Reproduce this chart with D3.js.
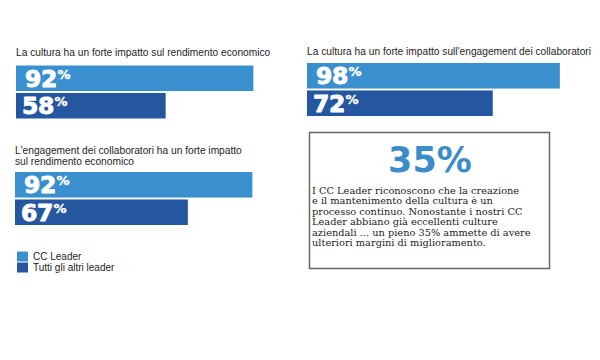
<!DOCTYPE html>
<html><head><meta charset="utf-8">
<script src="https://cdn.jsdelivr.net/npm/d3@7"></script>
<style>html,body{margin:0;padding:0;background:#fff;}</style>
</head><body>
<svg id="chart" width="600" height="360"></svg>
<script>
const titles = [
  ["La cultura ha un forte impatto sul rendimento economico"],
  ["La cultura ha un forte impatto sull'engagement dei collaboratori"],
  ["L'engagement dei collaboratori ha un forte impatto", "sul rendimento economico"]
];
const series = ["CC Leader", "Tutti gli altri leader"];
const ccLeader = [92, 98, 92];
const altriLeader = [58, 72, 67];
const calloutValue = "35%";
const calloutLines = [
  "I CC Leader riconoscono che la creazione",
  "e il mantenimento della cultura è un",
  "processo continuo. Nonostante i nostri CC",
  "Leader abbiano già eccellenti culture",
  "aziendali ... un pieno 35% ammette di avere",
  "ulteriori margini di miglioramento."
];

const colors = ["#3a8fcf", "#2557a1"];
const svg = d3.select("#chart");

// layout of the three panels
const panels = [
  {x: 16, titleY: 56, barTop: 65.5},
  {x: 307, titleY: 55, barTop: 63},
  {x: 15, titleY: 153.5, barTop: 172}
];
const x = d3.scaleLinear().domain([0, 100]).range([0, 258]);
const sans = "'Liberation Sans', Arial, sans-serif";

panels.forEach((p, i) => {
  const g = svg.append("g").attr("transform", `translate(${p.x},0)`);
  g.selectAll("text.title").data(titles[i]).join("text")
    .attr("class", "title")
    .attr("x", 0).attr("y", (d, j) => p.titleY + j * 11)
    .attr("font-family", sans).attr("font-size", 10.2).attr("fill", "#1e1e1e")
    .text(d => d);
  const y = d3.scaleBand().domain(series).range([p.barTop, p.barTop + 53]).paddingInner(0.07);
  const vals = [ccLeader[i], altriLeader[i]];
  g.selectAll("rect.bar").data(vals).join("rect")
    .attr("class", "bar")
    .attr("x", 0).attr("y", (d, j) => y(series[j]))
    .attr("width", d => x(d)).attr("height", y.bandwidth())
    .attr("fill", (d, j) => colors[j]);
  const lab = g.selectAll("text.lab").data(vals).join("text")
    .attr("class", "lab")
    .attr("x", (d, j) => j === 0 ? 9 : 6)
    .attr("y", (d, j) => y(series[j]) + y.bandwidth() / 2 + 8.5)
    .attr("font-family", "'DejaVu Sans', sans-serif").attr("font-weight", "bold")
    .attr("fill", "#fff").attr("stroke", "#fff").attr("stroke-width", 0.9)
    .attr("stroke-linejoin", "round");
  lab.append("tspan").attr("font-size", 23.5).attr("letter-spacing", -0.3).text(d => d);
  lab.append("tspan").attr("font-size", 13).attr("stroke-width", 0.4).attr("dx", 0.5).attr("dy", -8).text("%");
});

// legend
const leg = svg.append("g");
leg.selectAll("rect").data(series).join("rect")
  .attr("x", 17).attr("y", (d, j) => 251.5 + j * 11)
  .attr("width", 11).attr("height", 10)
  .attr("fill", (d, j) => colors[j]);
leg.selectAll("text").data(series).join("text")
  .attr("x", 33).attr("y", (d, j) => 260 + j * 11)
  .attr("font-family", sans).attr("font-size", 10).attr("fill", "#1e1e1e")
  .text(d => d);

// callout box
const box = svg.append("g");
box.append("rect").attr("x", 309.5).attr("y", 132.5).attr("width", 240).attr("height", 136)
  .attr("fill", "#fff").attr("stroke", "#666").attr("stroke-width", 1.5);
box.append("text").attr("x", 430).attr("y", 171.5).attr("text-anchor", "middle")
  .attr("font-family", "'DejaVu Sans', sans-serif").attr("font-weight", "bold")
  .attr("font-size", 35).attr("fill", "#3a8dc8").text(calloutValue);
box.selectAll("text.body").data(calloutLines).join("text")
  .attr("class", "body")
  .attr("x", 312).attr("y", (d, j) => 193.5 + j * 10.55)
  .attr("font-family", "'DejaVu Serif', serif").attr("font-size", 9.8)
  .attr("fill", "#222").text(d => d);
</script>
</body></html>
